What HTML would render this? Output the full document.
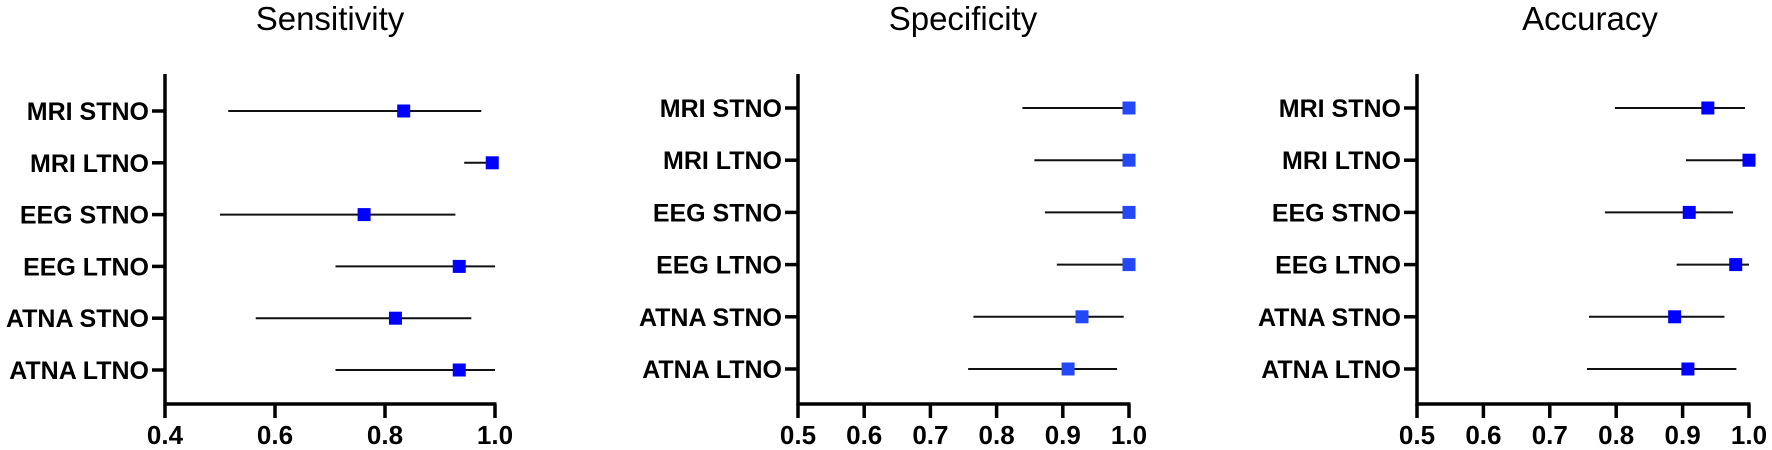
<!DOCTYPE html>
<html><head><meta charset="utf-8"><style>
body{margin:0;background:#fff}
svg{display:block}
.t{font-family:"Liberation Sans",sans-serif;font-size:33px;fill:#000}
.l{font-family:"Liberation Sans",sans-serif;font-size:25px;font-weight:bold;fill:#000}
.n{font-family:"Liberation Sans",sans-serif;font-size:26px;font-weight:bold;fill:#000}
</style></head><body>
<svg width="1772" height="450" viewBox="0 0 1772 450" xmlns="http://www.w3.org/2000/svg" id="s"></svg>
<script>
const s=document.getElementById('s');let h='';
const labels=["MRI STNO","MRI LTNO","EEG STNO","EEG LTNO","ATNA STNO","ATNA LTNO"];
const panels=[
 {title:"Sensitivity",cx:330,ax:165,x0:0.4,x1:1.0,px1:495,ticks:[0.4,0.6,0.8,1.0],y0:111,dy:51.8,col:"#0000ff",
  d:[[0.515,0.834,0.975],[0.944,0.995,1.0],[0.50,0.762,0.928],[0.71,0.935,1.0],[0.565,0.819,0.957],[0.71,0.935,1.0]]},
 {title:"Specificity",cx:963,ax:798,x0:0.5,x1:1.0,px1:1129,ticks:[0.5,0.6,0.7,0.8,0.9,1.0],y0:108,dy:52.2,col:"#2448f5",
  d:[[0.839,1,1],[0.857,1,1],[0.873,1,1],[0.891,1,1],[0.765,0.929,0.992],[0.757,0.908,0.982]]},
 {title:"Accuracy",cx:1590,ax:1417,x0:0.5,x1:1.0,px1:1749,ticks:[0.5,0.6,0.7,0.8,0.9,1.0],y0:108,dy:52.2,col:"#0000ff",
  d:[[0.798,0.938,0.994],[0.905,1.0,1.0],[0.783,0.910,0.976],[0.891,0.980,1.0],[0.759,0.888,0.963],[0.756,0.908,0.981]]}
];
for(const p of panels){
 const X=v=>p.ax+(v-p.x0)/(p.x1-p.x0)*(p.px1-p.ax);
 h+=`<text class="t" x="${p.cx}" y="30" text-anchor="middle">${p.title}</text>`;
 h+=`<line x1="${p.ax}" y1="74" x2="${p.ax}" y2="405.5" stroke="#000" stroke-width="3.5"/>`;
 h+=`<line x1="${p.ax-1.5}" y1="404" x2="${p.px1+1.5}" y2="404" stroke="#000" stroke-width="3.5"/>`;
 for(const t of p.ticks){const x=X(t);
  h+=`<line x1="${x}" y1="404" x2="${x}" y2="418" stroke="#000" stroke-width="3.5"/>`;
  h+=`<text class="n" x="${x}" y="444" text-anchor="middle">${t.toFixed(1)}</text>`;}
 p.d.forEach((r,i)=>{const y=p.y0+i*p.dy;
  h+=`<line x1="${p.ax-13}" y1="${y}" x2="${p.ax}" y2="${y}" stroke="#000" stroke-width="3.5"/>`;
  h+=`<text class="l" x="${p.ax-16}" y="${y+9}" text-anchor="end">${labels[i]}</text>`;
  h+=`<line x1="${X(r[0])}" y1="${y}" x2="${X(r[2])}" y2="${y}" stroke="#111" stroke-width="2"/>`;
  h+=`<rect x="${X(r[1])-6.5}" y="${y-6.5}" width="13" height="13" fill="${p.col}"/>`;
 });
}
s.innerHTML=h;
</script>
</body></html>
